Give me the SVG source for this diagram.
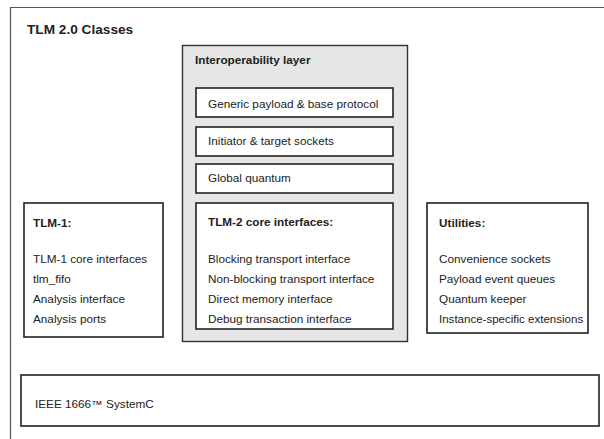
<svg xmlns="http://www.w3.org/2000/svg" width="604" height="439" viewBox="0 0 604 439">
  <style>
    .frame { fill: none; stroke: #555; stroke-width: 1.2; }
    .box { fill: #fff; stroke: #222; stroke-width: 1.6; }
    .layer { fill: #e6e6e6; stroke: #333; stroke-width: 1.4; }
    text { font-family: "Liberation Sans", Arial, sans-serif; font-size: 10.5px; fill: #222; }
    .title { font-weight: bold; font-size: 12.2px; }
    .head { font-weight: bold; }
  </style>
  <rect width="604" height="439" fill="#fff"/>

  <!-- outer frame: top and left edges only; text is set slightly wide (scale 1.12 x) -->
  <g id="frame">
    <path class="frame" d="M604 7.5 H10.5 V439"/>
    <text class="title" transform="translate(27 33.5) scale(1.12 1)">TLM 2.0 Classes</text>
  </g>

  <!-- interoperability layer and its contents -->
  <g id="interop">
    <rect class="layer" x="182.5" y="45.5" width="225" height="296"/>
    <text class="head" transform="translate(195 63.5) scale(1.12 1)">Interoperability layer</text>
  </g>
  <g id="payload">
    <rect class="box" x="196" y="88" width="197" height="29"/>
    <text transform="translate(208 107.5) scale(1.12 1)">Generic payload &amp; base protocol</text>
  </g>
  <g id="sockets">
    <rect class="box" x="196" y="127" width="197" height="29"/>
    <text transform="translate(208 145) scale(1.12 1)">Initiator &amp; target sockets</text>
  </g>
  <g id="quantum">
    <rect class="box" x="196" y="164" width="197" height="29"/>
    <text transform="translate(208 182) scale(1.12 1)">Global quantum</text>
  </g>
  <g id="tlm2">
    <rect class="box" x="196" y="203" width="197" height="126"/>
    <text class="head" transform="translate(208 226) scale(1.12 1)">TLM-2 core interfaces:</text>
    <text transform="translate(208 263) scale(1.12 1)">Blocking transport interface</text>
    <text transform="translate(208 283) scale(1.12 1)">Non-blocking transport interface</text>
    <text transform="translate(208 303) scale(1.12 1)">Direct memory interface</text>
    <text transform="translate(208 322.5) scale(1.12 1)">Debug transaction interface</text>
  </g>

  <g id="tlm1">
    <rect class="box" x="24" y="203" width="139" height="134"/>
    <text class="head" transform="translate(33 227) scale(1.12 1)">TLM-1:</text>
    <text transform="translate(33 263) scale(1.12 1)">TLM-1 core interfaces</text>
    <text transform="translate(33 283) scale(1.12 1)">tlm_fifo</text>
    <text transform="translate(33 303) scale(1.12 1)">Analysis interface</text>
    <text transform="translate(33 322.5) scale(1.12 1)">Analysis ports</text>
  </g>

  <g id="utilities">
    <rect class="box" x="427" y="203" width="161" height="130"/>
    <text class="head" transform="translate(439 226.5) scale(1.12 1)">Utilities:</text>
    <text transform="translate(439 263) scale(1.12 1)">Convenience sockets</text>
    <text transform="translate(439 283) scale(1.12 1)">Payload event queues</text>
    <text transform="translate(439 303) scale(1.12 1)">Quantum keeper</text>
    <text transform="translate(439 322.5) scale(1.1 1)">Instance-specific extensions</text>
  </g>

  <g id="systemc">
    <rect class="box" x="21" y="375" width="578" height="51"/>
    <text transform="translate(35 408) scale(1.12 1)">IEEE 1666™  SystemC</text>
  </g>

  <g id="connectors"/>
</svg>
